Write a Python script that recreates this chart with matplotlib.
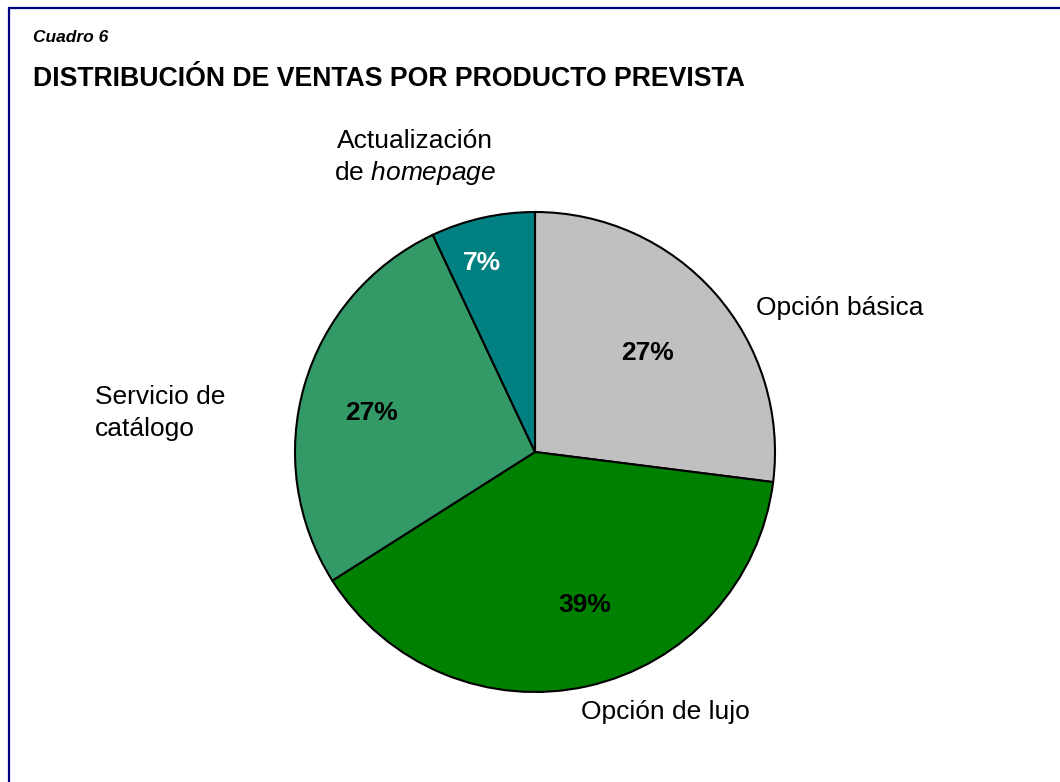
import matplotlib
matplotlib.use("Agg")
import matplotlib.pyplot as plt
import matplotlib.patches as patches

plt.rcParams['font.family'] = ['Liberation Sans', 'DejaVu Sans']
plt.rcParams['mathtext.fontset'] = 'custom'
plt.rcParams['mathtext.rm'] = 'Liberation Sans'
plt.rcParams['mathtext.it'] = 'Liberation Sans:italic'

# data
categories = ["Opción básica", "Opción de lujo", "Servicio de\ncatálogo", "Actualización\nde homepage"]
shares = [27, 39, 27, 7]
colors = ["#C0C0C0", "#008000", "#339966", "#008080"]
pct_colors = ["black", "black", "black", "white"]

W, H = 1060, 782
fig = plt.figure(figsize=(W / 100, H / 100), dpi=100)

# navy frame (only top and left edges are visible)
frame = patches.Rectangle((8.5 / W, -0.5), 1.5, 1.5 - 7.5 / H, transform=fig.transFigure,
                          fill=False, edgecolor="#000080", linewidth=1.6)
fig.add_artist(frame)

fig.text(33 / W, 1 - 42 / H, "Cuadro 6", fontsize=12.5, fontweight='bold', fontstyle='italic', va='baseline')
fig.text(33 / W, 1 - 86 / H, "DISTRIBUCIÓN DE VENTAS POR PRODUCTO PREVISTA",
         fontsize=19.2, fontweight='bold', va='baseline')

# pie axes: centre (535, 452), radius 240 px
cx, cy, r = 535, 452, 240
ax = fig.add_axes([(cx - r) / W, (H - cy - r) / H, 2 * r / W, 2 * r / H])
wedges, _ = ax.pie(shares, colors=colors, startangle=90, counterclock=False, radius=1,
                   wedgeprops=dict(edgecolor='black', linewidth=1.5))
ax.set_xlim(-1, 1)
ax.set_ylim(-1, 1)
ax.set_aspect('equal')
ax.axis('off')

def px(x, y):
    return (x - cx) / r, (cy - y) / r

# percent labels
pct_pos = [(648, 353), (585, 605), (372, 413), (482, 263)]
for v, (x, y), c in zip(shares, pct_pos, pct_colors):
    ax.text(*px(x, y), f"{v}%", ha='center', va='center', fontsize=19, fontweight='bold', color=c)

# category labels
ax.text(*px(840, 308), categories[0], ha='center', va='center', fontsize=19)
ax.text(*px(665, 712), categories[1], ha='center', va='center', fontsize=19)
ax.text(*px(95, 413), categories[2], ha='left', va='center', fontsize=19, linespacing=1.4)
ax.text(*px(415, 141), "Actualización", ha='center', va='center', fontsize=19)
ax.text(*px(415, 173), "de $\\it{homepage}$", ha='center', va='center', fontsize=19)

fig.savefig("out.png", dpi=100)
